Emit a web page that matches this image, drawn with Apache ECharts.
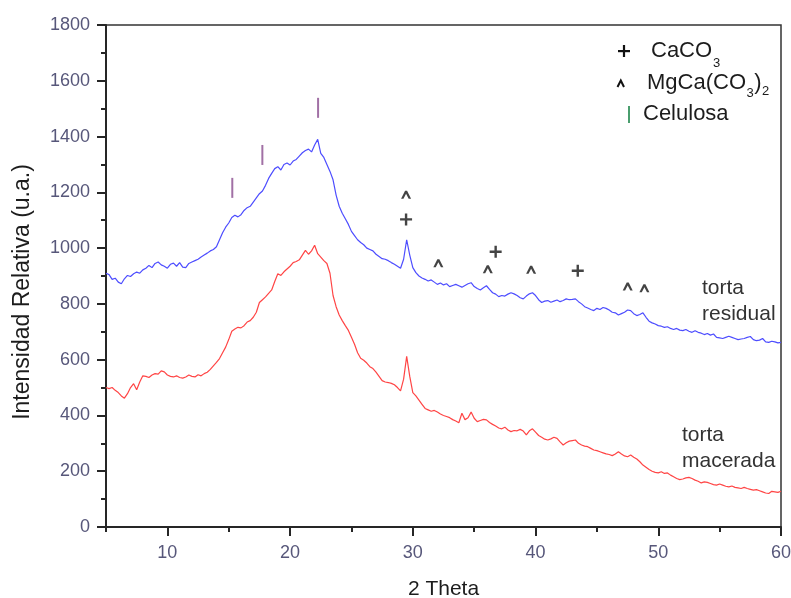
<!DOCTYPE html>
<html>
<head>
<meta charset="utf-8">
<script src="https://cdn.jsdelivr.net/npm/echarts@6/dist/echarts.min.js"></script>
<style>
html,body{margin:0;padding:0;background:#fff;}
#chart{width:791px;height:598px;}
</style>
</head>
<body>
<div id="chart"></div>
<script>
// ---- DATA ----
const X_START = 5;
const X_STEP = 0.25;
// torta residual (blue), 2θ = 5 .. 60 step 0.25
const residual = [
  910,905,888,892,878,872,890,902,898,908,914,910,922,928,938,930,945,950,940,935,
  928,942,946,935,948,932,930,945,950,955,960,968,975,982,990,995,1005,1030,1055,1075,
  1090,1110,1118,1112,1120,1135,1145,1150,1165,1180,1195,1205,1225,1250,1268,1285,1292,1280,1300,1305,
  1298,1312,1318,1330,1342,1350,1355,1345,1370,1390,1340,1325,1300,1275,1245,1190,1150,1125,1105,1085,
  1060,1045,1030,1020,1012,1000,995,990,978,970,962,960,955,948,942,935,928,960,1030,975,
  930,912,900,893,888,882,886,878,870,875,868,872,862,866,870,865,860,866,872,876,
  862,855,850,858,865,852,840,835,826,830,828,835,840,836,830,822,818,828,836,840,
  830,815,805,810,812,806,810,814,808,812,818,815,816,818,808,800,790,785,780,776,
  784,780,787,784,778,770,768,760,765,770,778,776,765,758,762,768,752,738,732,728,
  722,720,716,718,712,708,712,706,704,708,702,698,704,698,695,690,694,688,692,680,
  678,676,680,684,680,676,672,674,676,680,683,672,668,670,676,664,662,666,664,660,
  662
];
// torta macerada (red)
const macerada = [
  500,496,500,490,482,470,462,478,500,514,492,520,542,540,536,545,550,548,560,556,
  545,540,538,542,536,534,538,545,540,538,546,542,550,555,565,578,590,604,625,645,
  672,702,710,716,714,722,735,740,752,770,805,815,825,838,850,880,908,902,915,925,
  935,948,952,958,975,992,978,990,1010,980,968,955,945,910,830,790,760,740,722,705,
  680,655,625,605,598,588,575,568,555,540,525,520,518,515,510,500,488,530,612,540,
  482,470,455,440,425,420,415,418,412,405,400,396,392,385,380,374,408,385,392,412,
  390,378,382,386,384,375,368,362,355,352,358,348,342,346,345,350,344,330,345,352,
  340,328,322,315,312,316,322,318,305,294,302,308,310,312,300,294,290,288,282,276,
  274,270,266,262,260,256,262,270,262,255,252,258,250,244,234,222,214,206,200,196,
  194,198,192,194,186,180,174,170,172,176,178,174,168,164,158,162,160,156,152,150,
  154,150,146,144,147,142,140,138,142,138,135,132,134,130,126,122,120,128,126,124,
  128
];
// Peak annotations
const caco3X = [29.45, 36.75, 43.44];
const caco3Y = [1103, 987, 919];
const dolomiteX = [29.45, 32.08, 36.11, 39.64, 47.51, 48.87];
const dolomiteY = [1191, 946, 924, 922, 862, 856];
const celulosaX = [15.29, 17.74, 22.28];
const celulosaY = [1216, 1334, 1503];
// Axis ticks
const xMajorTicks = [10, 20, 30, 40, 50, 60];
const xMinorTicks = [5, 15, 25, 35, 45, 55];
const yMin = 0, yMax = 1800, yInterval = 200;
const xMin = 5, xMax = 60;

// ---- BUILD ----
const FONT = '"Liberation Sans", Arial, sans-serif';
const toXY = arr => arr.map((v, i) => [X_START + i * X_STEP, v]);
const zip = (xs, ys) => xs.map((x, i) => [x, ys[i]]);

const chart = echarts.init(document.getElementById('chart'), null, {renderer: 'canvas'});

const TICK_COLOR = '#57577a';
const AXIS_COLOR = '#262626';
const gridBox = {left: 106, right: 10, top: 25, bottom: 71, outerBoundsMode: 'none', containLabel: false};

const ctx = document.createElement('canvas').getContext('2d');
function tw(text, size) { ctx.font = size + 'px ' + FONT; return ctx.measureText(text).width; }

function txt(text, x, y, size, opts) {
  return {
    type: 'text', x: x, y: y, z: 100,
    style: Object.assign({text: text, fontSize: size, fontFamily: FONT, fill: '#1c1c1c',
      align: 'left', verticalAlign: 'middle'}, (opts && opts.style) || {})
  };
}

// legend pieces
const LS = 22, SS = 13;
const g = [];
g.push({type: 'rect', shape: {x: 618, y: 50, width: 12, height: 2.2}, style: {fill: '#111'}, z: 100});
g.push({type: 'rect', shape: {x: 622.9, y: 45, width: 2.2, height: 12}, style: {fill: '#111'}, z: 100});
g.push(txt('CaCO', 651, 51, LS));
g.push(txt('3', 651 + tw('CaCO', LS) + 1, 63, SS));
g.push({type: 'polyline', shape: {points: [[617.5, 87], [620.8, 80.5], [624, 87]]},
  style: {stroke: '#111', lineWidth: 2, fill: null}, z: 100});
const mgW = tw('MgCa(CO', LS);
g.push(txt('MgCa(CO', 647, 83, LS));
g.push(txt('3', 647 + mgW + 0.5, 93, SS));
const parX = 647 + mgW + tw('3', SS) + 1;
g.push(txt(')', parX, 83, LS));
g.push(txt('2', parX + tw(')', LS) + 0.5, 91, SS));
g.push({type: 'line', shape: {x1: 629, y1: 106, x2: 629, y2: 123}, style: {stroke: '#4a9e6e', lineWidth: 2}, z: 100});
g.push(txt('Celulosa', 643, 114, LS));
// curve labels
g.push(txt('torta', 702, 288, 21, {style: {fill: '#333'}}));
g.push(txt('residual', 702, 314, 21, {style: {fill: '#333'}}));
g.push(txt('torta', 682, 435, 21, {style: {fill: '#333'}}));
g.push(txt('macerada', 682, 461, 21, {style: {fill: '#333'}}));
// y axis title
g.push({type: 'text', x: 23, y: 292, rotation: Math.PI / 2, z: 100,
  style: {text: 'Intensidad Relativa (u.a.)', fontSize: 23, fontFamily: FONT, fill: '#1c1c1c',
    align: 'center', verticalAlign: 'middle'}});

const caretPath = 'path://M0,8 L4,0 L6,0 L10,8 L7.6,8 L5,3 L2.4,8 Z';
const plusPath = 'path://M4.8,0 H7.2 V4.8 H12 V7.2 H7.2 V12 H4.8 V7.2 H0 V4.8 H4.8 Z';

const option = {
  animation: false,
  backgroundColor: '#fff',
  grid: [
    Object.assign({show: true, borderColor: '#333', borderWidth: 1.5}, gridBox),
    Object.assign({show: false}, gridBox)
  ],
  xAxis: [{
    type: 'value', gridIndex: 0, min: xMin, max: xMax, interval: 5,
    name: '2 Theta', nameLocation: 'middle', nameGap: 52,
    nameTextStyle: {fontSize: 21, fontFamily: FONT, color: '#1c1c1c'},
    axisLine: {show: true, onZero: false, lineStyle: {color: AXIS_COLOR, width: 2}},
    axisTick: {show: true, customValues: xMajorTicks, length: 9, lineStyle: {color: AXIS_COLOR, width: 2}},
    axisLabel: {show: true, customValues: xMajorTicks, fontSize: 18, fontFamily: FONT, color: TICK_COLOR, margin: 17,
      formatter: v => String(v)},
    splitLine: {show: false}
  }, {
    type: 'value', gridIndex: 1, min: xMin, max: xMax, interval: 5,
    axisLine: {show: false},
    axisTick: {show: true, customValues: xMinorTicks, length: 5, lineStyle: {color: AXIS_COLOR, width: 2}},
    axisLabel: {show: false},
    splitLine: {show: false}
  }],
  yAxis: [{
    type: 'value', gridIndex: 0, min: yMin, max: yMax, interval: yInterval,
    axisLine: {show: true, onZero: false, lineStyle: {color: AXIS_COLOR, width: 2}},
    axisTick: {show: true, length: 9, lineStyle: {color: AXIS_COLOR, width: 2}},
    minorTick: {show: true, splitNumber: 2, length: 5, lineStyle: {color: AXIS_COLOR, width: 2}},
    axisLabel: {fontSize: 18, fontFamily: FONT, color: TICK_COLOR, margin: 16, formatter: v => String(v)},
    splitLine: {show: false}, minorSplitLine: {show: false}
  }, {
    type: 'value', gridIndex: 1, min: yMin, max: yMax, show: false
  }],
  series: [{
    name: 'torta residual', type: 'line', data: toXY(residual), showSymbol: false,
    lineStyle: {color: '#4d4dff', width: 1.2}, z: 3
  }, {
    name: 'torta macerada', type: 'line', data: toXY(macerada), showSymbol: false,
    lineStyle: {color: '#ff4545', width: 1.2}, z: 3
  }, {
    name: 'CaCO3', type: 'scatter', data: zip(caco3X, caco3Y), symbol: plusPath, symbolSize: [12, 12],
    itemStyle: {color: '#151515'}, z: 5
  }, {
    name: 'MgCa(CO3)2', type: 'scatter', data: zip(dolomiteX, dolomiteY), symbol: caretPath, symbolSize: [10, 8],
    itemStyle: {color: '#151515'}, z: 5
  }, {
    name: 'Celulosa', type: 'scatter', data: zip(celulosaX, celulosaY), symbol: 'rect', symbolSize: [2, 20],
    itemStyle: {color: '#8a4c8f'}, z: 5
  }],
  graphic: g
};
chart.setOption(option);
</script>
</body>
</html>
